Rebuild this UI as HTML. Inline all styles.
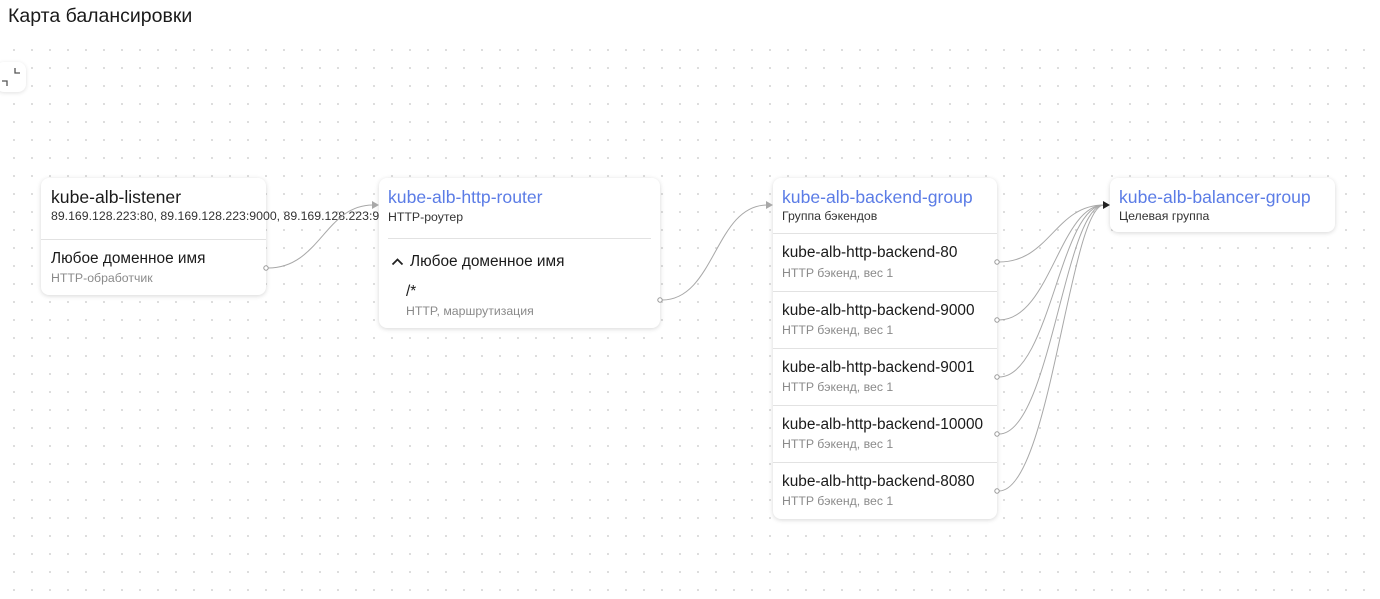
<!DOCTYPE html>
<html><head><meta charset="utf-8">
<style>
*{box-sizing:border-box;margin:0;padding:0}
body{width:1380px;height:599px;overflow:hidden;background:#fff;font-family:"Liberation Sans","DejaVu Sans",sans-serif;position:relative;color:#222}
.grid{position:absolute;left:0;top:40px;width:1372px;height:559px;background-image:radial-gradient(circle,#d8d8d8 0.9px,transparent 1.2px);background-size:18px 18px;background-position:5px 1px}
h1{position:absolute;left:8px;top:5px;font-size:19.5px;font-weight:normal;color:#1a1a1a}
.btn{position:absolute;left:-4px;top:62px;width:30px;height:30px;background:#fff;border-radius:8px;box-shadow:0 1px 4px rgba(0,0,0,.12)}
.card{position:absolute;background:#fff;border-radius:8px;box-shadow:0 1px 5px rgba(0,0,0,.16)}
.t{position:absolute;font-size:17.6px;white-space:nowrap;color:#1a1a1a}
.r{font-size:15.4px}
.blue{color:#5b7ce6}
.s{position:absolute;font-size:12.3px;white-space:nowrap;color:#333}
.g{color:#8a8a8a}
.hr{position:absolute;height:1px;background:#e2e2e2}
svg{position:absolute;left:0;top:0}
</style></head><body>
<div class="grid"></div>
<h1>Карта балансировки</h1>
<div class="btn"><svg width="30" height="30" style="left:0;top:0"><path d="M6 19h5v5M19 6v5h5" stroke="#555" stroke-width="1.3" fill="none"/></svg></div>

<div class="card" style="left:41px;top:178px;width:225px;height:117px">
<div class="t" style="left:10px;top:9px">kube-alb-listener</div>
<div class="s" style="left:10px;top:31px">89.169.128.223:80, 89.169.128.223:9000, 89.169.128.223:9</div>
<div class="hr" style="left:0;right:0;top:61px"></div>
<div class="t r" style="left:10px;top:72px">Любое доменное имя</div>
<div class="s g" style="left:10px;top:93px">HTTP-обработчик</div>
</div>

<div class="card" style="left:379px;top:178px;width:281px;height:150px">
<div class="t blue" style="left:9px;top:9px">kube-alb-http-router</div>
<div class="s" style="left:9px;top:32px">HTTP-роутер</div>
<div class="hr" style="left:9px;right:9px;top:60px"></div>
<svg width="14" height="10" style="left:12px;top:79px"><path d="M1.5 7.5L6.5 2.5L11.5 7.5" stroke="#222" stroke-width="1.8" fill="none"/></svg>
<div class="t r" style="left:31px;top:75px">Любое доменное имя</div>
<div class="t r" style="left:27px;top:105px">/*</div>
<div class="s g" style="left:27px;top:126px">HTTP, маршрутизация</div>
</div>

<div class="card" style="left:773px;top:178px;width:224px;height:341px">
<div class="t blue" style="left:9px;top:9px">kube-alb-backend-group</div>
<div class="s" style="left:9px;top:31px">Группа бэкендов</div>
<div class="hr" style="left:0;right:0;top:55px"></div>
<div class="t r" style="left:9px;top:66px">kube-alb-http-backend-80</div>
<div class="s g" style="left:9px;top:88px">HTTP бэкенд, вес 1</div>
<div class="hr" style="left:0;right:0;top:113px"></div>
<div class="t r" style="left:9px;top:124px">kube-alb-http-backend-9000</div>
<div class="s g" style="left:9px;top:145px">HTTP бэкенд, вес 1</div>
<div class="hr" style="left:0;right:0;top:170px"></div>
<div class="t r" style="left:9px;top:181px">kube-alb-http-backend-9001</div>
<div class="s g" style="left:9px;top:202px">HTTP бэкенд, вес 1</div>
<div class="hr" style="left:0;right:0;top:227px"></div>
<div class="t r" style="left:9px;top:238px">kube-alb-http-backend-10000</div>
<div class="s g" style="left:9px;top:259px">HTTP бэкенд, вес 1</div>
<div class="hr" style="left:0;right:0;top:284px"></div>
<div class="t r" style="left:9px;top:295px">kube-alb-http-backend-8080</div>
<div class="s g" style="left:9px;top:316px">HTTP бэкенд, вес 1</div>
</div>

<div class="card" style="left:1110px;top:178px;width:225px;height:54px">
<div class="t blue" style="left:9px;top:9px">kube-alb-balancer-group</div>
<div class="s" style="left:9px;top:31px">Целевая группа</div>
</div>

<svg width="1380" height="599">
<g fill="none" stroke="#a8a8a8" stroke-width="1">
<path d="M268 268 C320 268 325 205 373 205"/>
<path d="M662 300 C715 300 715 205 767 205"/>
<path d="M999 262 C1050 262 1055 205 1104 205"/>
<path d="M999 320 C1050 320 1060 205 1104 205"/>
<path d="M999 377 C1050 377 1060 205 1104 205"/>
<path d="M999 434 C1050 434 1065 205 1104 205"/>
<path d="M999 491 C1050 491 1070 205 1104 205"/>
</g>
<g fill="#fff" stroke="#999" stroke-width="1">
<circle cx="266" cy="268" r="2.2"/><circle cx="660" cy="300" r="2.2"/>
<circle cx="997" cy="262" r="2.2"/><circle cx="997" cy="320" r="2.2"/><circle cx="997" cy="377" r="2.2"/><circle cx="997" cy="434" r="2.2"/><circle cx="997" cy="491" r="2.2"/>
</g>
<path d="M372 201 L379 205 L372 209Z" fill="#a8a8a8"/>
<path d="M766 201 L773 205 L766 209Z" fill="#a8a8a8"/>
<path d="M1103 201 L1110 205 L1103 209Z" fill="#222"/>
</svg>
</body></html>
